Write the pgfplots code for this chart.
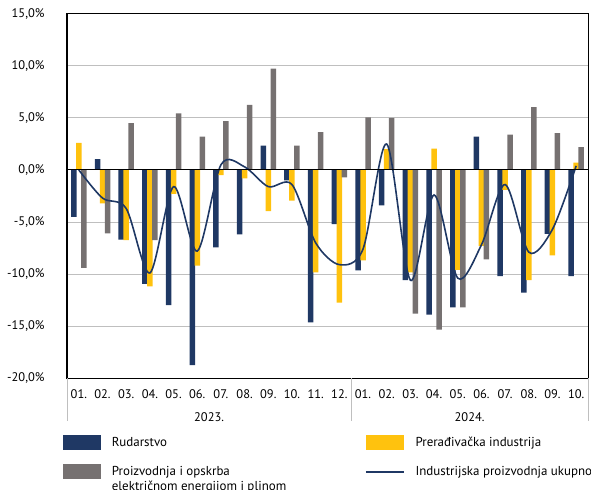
\documentclass[border=0pt]{standalone}
\usepackage{fontspec}
\setmainfont{PT Sans}
\usepackage{pgfplots}
\pgfplotsset{compat=1.18}
\definecolor{navy}{HTML}{1F3864}
\definecolor{zuta}{HTML}{FFC20E}
\definecolor{siva}{HTML}{767171}
\definecolor{mreza}{HTML}{BFBFBF}

\begin{document}
\begin{tikzpicture}
\begin{axis}[
    name=ax,
    scale only axis, width=521bp, height=364bp,
    xmin=-0.5, xmax=21.5, ymin=-20, ymax=15,
    axis line style={black, line width=1bp},
    xtick={0,...,21},
    xticklabels={01.,02.,03.,04.,05.,06.,07.,08.,09.,10.,11.,12.,
                 01.,02.,03.,04.,05.,06.,07.,08.,09.,10.},
    ytick={-20,-15,-10,-5,0,5,10,15},
    yticklabels={{-20,0\%},{-15,0\%},{-10,0\%},{-5,0\%},{0,0\%},{5,0\%},{10,0\%},{15,0\%}},
    major tick length=0pt,
    ymajorgrids, grid style={mreza, line width=1bp},
    ticklabel style={font=\fontsize{12.5}{15}\selectfont},
    yticklabel style={xshift=-19bp},
    xticklabel style={yshift=-8bp},
    extra x ticks={5.5,16.5},
    extra x tick labels={2023.,2024.},
    extra x tick style={grid=none, xticklabel style={yshift=-23bp}},
    legend columns=2,
    legend cell align=left,
    legend style={at={(axis description cs:0,0)}, anchor=north west,
        xshift=-7bp, yshift=-55bp, draw=none, fill=none,
        font=\fontsize{13}{15}\selectfont,
        row sep=14bp},
]
\addplot[ybar, bar width=5.5bp, bar shift=-5bp, fill=navy, draw=none,
    legend image code/.code={\fill[navy] (0bp,-7.5bp) rectangle (37.7bp,7.5bp);}]
coordinates {
(0,-4.5) (1,1.05) (2,-6.7) (3,-10.95) (4,-13.0) (5,-18.75) (6,-7.45) (7,-6.2)
(8,2.35) (9,-1.0) (10,-14.65) (11,-5.2) (12,-9.65) (13,-3.4) (14,-10.6)
(15,-13.9) (16,-13.2) (17,3.2) (18,-10.2) (19,-11.8) (20,-6.15) (21,-10.2)
};
\addlegendentry{\hspace*{9bp}\makebox[251bp][l]{Rudarstvo}}
\addplot[ybar, bar width=5.5bp, bar shift=0bp, fill=zuta, draw=none,
    legend image code/.code={\fill[zuta] (0bp,-7.5bp) rectangle (37.7bp,7.5bp);}]
coordinates {
(0,2.6) (1,-3.2) (2,-6.75) (3,-11.2) (4,-2.3) (5,-9.2) (6,-0.5) (7,-0.8)
(8,-3.95) (9,-2.95) (10,-9.85) (11,-12.75) (12,-8.7) (13,2.0) (14,-9.85)
(15,2.05) (16,-9.6) (17,-7.3) (18,-1.9) (19,-10.6) (20,-8.2) (21,0.7)
};
\addlegendentry{\hspace*{9bp}Prerađivačka industrija}
\addplot[ybar, bar width=5.5bp, bar shift=5bp, fill=siva, draw=none,
    legend image code/.code={\fill[siva] (0bp,-7.5bp) rectangle (37.7bp,7.5bp);}]
coordinates {
(0,-9.4) (1,-6.1) (2,4.5) (3,-6.75) (4,5.45) (5,3.2) (6,4.7) (7,6.25)
(8,9.75) (9,2.35) (10,3.65) (11,-0.7) (12,5.05) (13,5.0) (14,-13.8)
(15,-15.35) (16,-13.2) (17,-8.6) (18,3.4) (19,6.05) (20,3.55) (21,2.2)
};
\addlegendentry{\hspace*{9bp}\parbox[t]{251bp}{Proizvodnja i opskrba\\električnom energijom i plinom}}
\addplot[navy, line width=1.6bp, smooth, no markers,
    legend image code/.code={\draw[navy, line width=2bp] (0bp,0bp) -- (37.7bp,0bp);}]
coordinates {
(0,0.0) (1,-2.7) (2,-3.7) (3,-9.9) (4,-1.6) (5,-7.8) (6,0.5) (7,0.3)
(8,-1.6) (9,-1.4) (10,-7.0) (11,-9.1) (12,-7.6) (13,2.5) (14,-10.6)
(15,-2.4) (16,-10.4) (17,-7.2) (18,-1.4) (19,-7.9) (20,-5.7) (21,0.4)
};
\addlegendentry{\hspace*{9bp}Industrijska proizvodnja ukupno}
\draw[black, line width=1bp] (axis cs:-0.5,0) -- (axis cs:21.5,0);
\end{axis}
\draw[black, line width=1bp] (ax.south west) rectangle (ax.north east);
\draw[mreza, line width=1bp] ([yshift=-0.5bp]ax.south west) -- ++(0,-42bp);
\draw[mreza, line width=1bp] ([xshift=284.2bp,yshift=-0.5bp]ax.south west) -- ++(0,-42bp);
\draw[mreza, line width=1bp] ([yshift=-0.5bp]ax.south east) -- ++(0,-42bp);
\pgfresetboundingbox
\path[use as bounding box] ([xshift=-67bp,yshift=-112bp]ax.south west) rectangle ([xshift=3bp,yshift=14bp]ax.north east);
\end{tikzpicture}
\end{document}
